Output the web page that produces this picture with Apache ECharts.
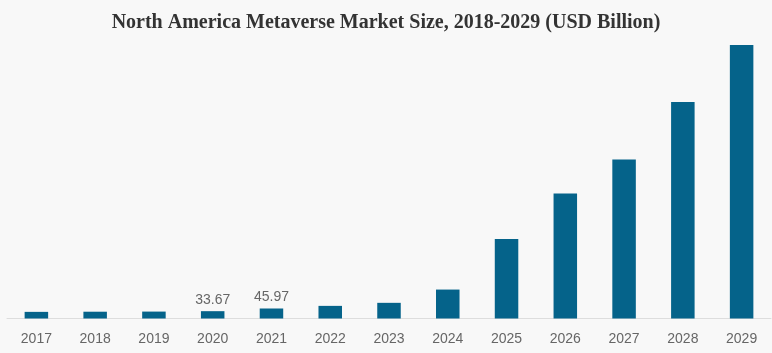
<!DOCTYPE html>
<html>
<head>
<meta charset="utf-8">
<script src="https://cdn.jsdelivr.net/npm/echarts@6/dist/echarts.min.js"></script>
<style>
  html, body { margin: 0; padding: 0; background: #f8f8f8; }
  #chart { width: 772px; height: 353px; }
</style>
</head>
<body>
<div id="chart"></div>
<script>
  // years on the x axis
  const years = ['2017', '2018', '2019', '2020', '2021', '2022', '2023',
    '2024', '2025', '2026', '2027', '2028', '2029']
  // market size, USD billion (2020 and 2021 are labelled in the source)
  const marketSize = [30.5, 31.2, 31.8, 33.67, 45.97, 58, 72,
    133, 365, 575, 731, 995, 1257]
  // which bars carry a value label
  const labelledYears = ['2020', '2021']

  const chart = echarts.init(document.getElementById('chart'))

  const option = {
    backgroundColor: '#f8f8f8',
    animation: false,
    title: {
      text: 'North America Metaverse Market Size, 2018-2029 (USD Billion)',
      left: 'center',
      top: 8,
      textStyle: {
        fontFamily: 'Liberation Serif',
        fontWeight: 'bold',
        fontSize: 20,
        color: '#333'
      }
    },
    grid: {
      left: 7,
      right: 1,
      top: 45,
      bottom: 34.5
    },
    xAxis: {
      type: 'category',
      data: years,
      axisLine: { lineStyle: { color: '#dddddd' } },
      axisTick: { show: false },
      axisLabel: {
        color: '#666',
        fontFamily: 'Arial, Liberation Sans',
        fontSize: 14,
        margin: 14
      }
    },
    yAxis: {
      type: 'value',
      min: 0,
      max: 1257,
      show: false,
      splitLine: { show: false }
    },
    series: [
      {
        type: 'bar',
        barWidth: '40%',
        data: marketSize.map((v, i) => ({
          value: v,
          label: { show: labelledYears.includes(years[i]) }
        })),
        itemStyle: { color: '#05638a' },
        label: {
          position: 'top',
          distance: 4,
          color: '#666',
          fontFamily: 'Arial, Liberation Sans',
          fontSize: 14
        }
      }
    ]
  }
  chart.setOption(option)
</script>
</body>
</html>
